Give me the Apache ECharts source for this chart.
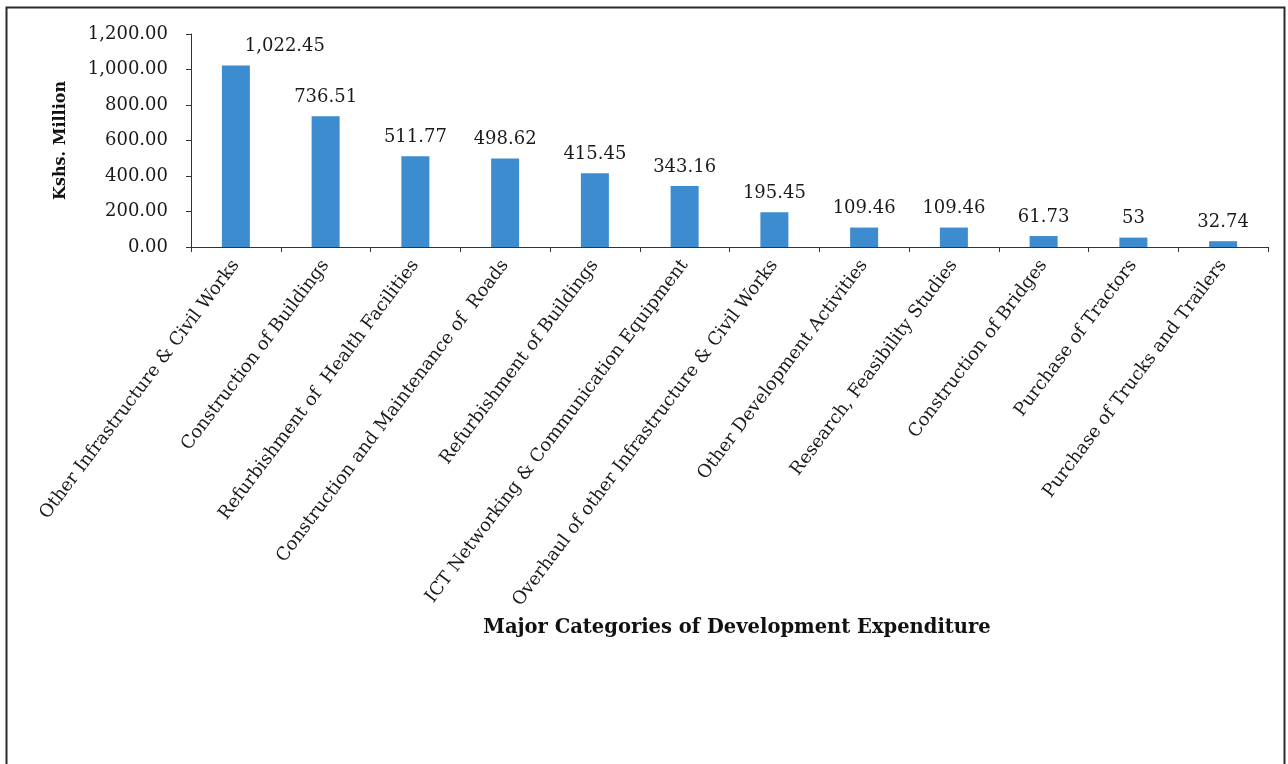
<!DOCTYPE html>
<html>
<head>
<meta charset="utf-8">
<script src="https://cdn.jsdelivr.net/npm/echarts@6/dist/echarts.min.js"></script>
<style>
html,body{margin:0;padding:0;background:#fff;}
#chart{width:1288px;height:764px;}
</style>
</head>
<body>
<div id="chart"></div>
<script>
const categories = [
  "Other Infrastructure & Civil Works",
  "Construction of Buildings",
  "Refurbishment of  Health Facilities",
  "Construction and Maintenance of  Roads",
  "Refurbishment of Buildings",
  "ICT Networking & Communication Equipment",
  "Overhaul of other Infrastructure & Civil Works",
  "Other Development Activities",
  "Research, Feasibility Studies",
  "Construction of Bridges",
  "Purchase of Tractors",
  "Purchase of Trucks and Trailers"
];
const values = [1022.45, 736.51, 511.77, 498.62, 415.45, 343.16, 195.45, 109.46, 109.46, 61.73, 53, 32.74];
const valueLabels = ["1,022.45", "736.51", "511.77", "498.62", "415.45", "343.16", "195.45", "109.46", "109.46", "61.73", "53", "32.74"];
const yTicks = [0, 200, 400, 600, 800, 1000, 1200];

const FONT = "DejaVu Serif";
const chart = echarts.init(document.getElementById('chart'), null, {renderer: 'canvas'});

const seriesData = values.map((v, i) => {
  const item = {value: v};
  if (i === 0) item.label = {offset: [49, 0]};
  return item;
});

chart.setOption({
  animation: false,
  backgroundColor: '#ffffff',
  grid: {left: 191, right: 20, top: 34, bottom: 517, containLabel: false},
  xAxis: {
    type: 'category',
    data: categories,
    axisLine: {lineStyle: {color: '#333', width: 1}},
    axisTick: {show: true, alignWithLabel: false, length: 5, lineStyle: {color: '#333'}},
    axisLabel: {
      interval: 0, rotate: 53, margin: 15,
      fontFamily: FONT, fontSize: 18, color: '#1a1a1a'
    }
  },
  yAxis: {
    type: 'value',
    min: 0, max: 1200, interval: 200,
    name: 'Kshs. Million',
    nameLocation: 'middle',
    nameGap: 122,
    nameTextStyle: {fontFamily: FONT, fontSize: 16, fontWeight: 'bold', color: '#111'},
    axisLine: {show: true, lineStyle: {color: '#333', width: 1}},
    axisTick: {show: true, length: 5, lineStyle: {color: '#333'}},
    splitLine: {show: false},
    axisLabel: {
      margin: 23,
      fontFamily: FONT, fontSize: 18, color: '#1a1a1a',
      formatter: v => yTicks.includes(v) ? v.toLocaleString('en-US', {minimumFractionDigits: 2, maximumFractionDigits: 2}) : ''
    }
  },
  series: [{
    type: 'bar',
    data: seriesData,
    barWidth: 28,
    itemStyle: {color: '#3d8cd0'},
    label: {
      show: true, position: 'top', distance: 10,
      fontFamily: FONT, fontSize: 18, color: '#1a1a1a',
      formatter: p => valueLabels[p.dataIndex]
    }
  }],
  graphic: [
    {
      type: 'rect', left: 4, top: 5, silent: true,
      shape: {x: 0, y: 0, width: 1278, height: 770},
      style: {fill: 'none', stroke: '#2a2a2a', lineWidth: 2}
    },
    {
      type: 'text', x: 737, y: 628, silent: true,
      style: {
        text: 'Major Categories of Development Expenditure',
        align: 'center', verticalAlign: 'middle',
        fontFamily: FONT, fontSize: 19.5, fontWeight: 'bold', fill: '#111'
      }
    }
  ]
});
</script>
</body>
</html>
